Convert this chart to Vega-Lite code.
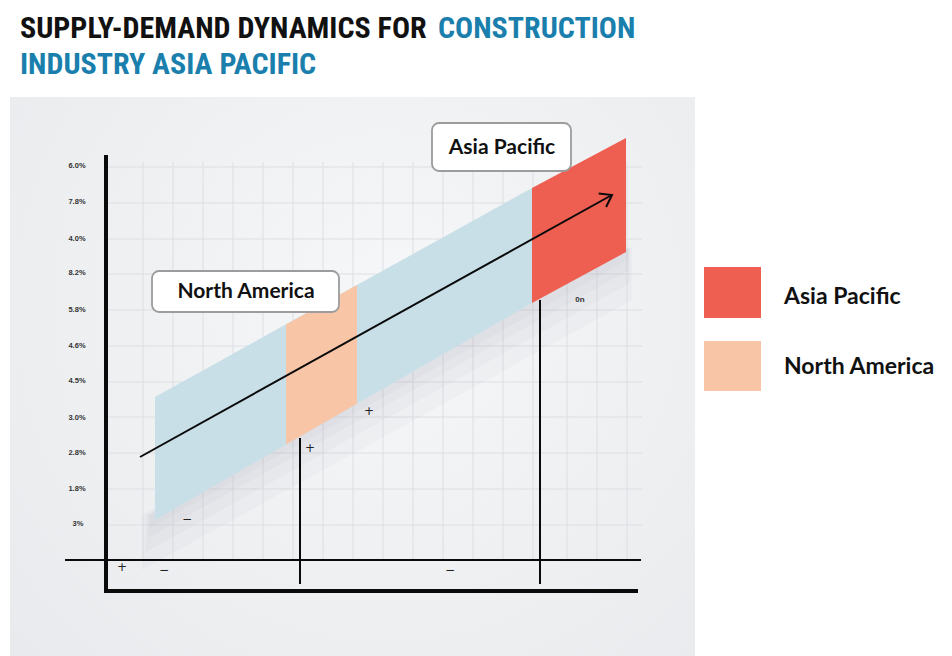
{
  "$schema": "https://vega.github.io/schema/vega-lite/v6.json",
  "width": 952,
  "height": 656,
  "padding": 0,
  "autosize": {"type": "fit", "contains": "padding"},
  "background": "#ffffff",
  "config": {"view": {"stroke": null}},
  "datasets": {
    "panel": [{"x": 10, "y": 97, "x2": 695, "y2": 656}],
    "grid": [
      {"x": 143, "y": 162, "x2": 143, "y2": 560}, {"x": 173, "y": 162, "x2": 173, "y2": 560},
      {"x": 203, "y": 162, "x2": 203, "y2": 560}, {"x": 233, "y": 162, "x2": 233, "y2": 560},
      {"x": 263, "y": 162, "x2": 263, "y2": 560}, {"x": 293, "y": 162, "x2": 293, "y2": 560},
      {"x": 323, "y": 162, "x2": 323, "y2": 560}, {"x": 353, "y": 162, "x2": 353, "y2": 560},
      {"x": 383, "y": 162, "x2": 383, "y2": 560}, {"x": 413, "y": 162, "x2": 413, "y2": 560},
      {"x": 443, "y": 162, "x2": 443, "y2": 560}, {"x": 473, "y": 162, "x2": 473, "y2": 560},
      {"x": 503, "y": 162, "x2": 503, "y2": 560}, {"x": 533, "y": 162, "x2": 533, "y2": 560},
      {"x": 567, "y": 162, "x2": 567, "y2": 560}, {"x": 597, "y": 162, "x2": 597, "y2": 560},
      {"x": 627, "y": 162, "x2": 627, "y2": 560},
      {"x": 107, "y": 167, "x2": 642, "y2": 167}, {"x": 107, "y": 203, "x2": 642, "y2": 203},
      {"x": 107, "y": 239, "x2": 642, "y2": 239}, {"x": 107, "y": 274, "x2": 642, "y2": 274},
      {"x": 107, "y": 310, "x2": 642, "y2": 310}, {"x": 107, "y": 346, "x2": 642, "y2": 346},
      {"x": 107, "y": 382, "x2": 642, "y2": 382}, {"x": 107, "y": 417, "x2": 642, "y2": 417},
      {"x": 107, "y": 453, "x2": 642, "y2": 453}, {"x": 107, "y": 489, "x2": 642, "y2": 489},
      {"x": 107, "y": 525, "x2": 642, "y2": 525}
    ],
    "shadow": [
      {"g": "a", "x": 150, "y": 515, "y2": 528},
      {"g": "a", "x": 628, "y": 247, "y2": 260},
      {"g": "b", "x": 148, "y": 515, "y2": 538},
      {"g": "b", "x": 629, "y": 247, "y2": 270},
      {"g": "c", "x": 146, "y": 515, "y2": 552},
      {"g": "c", "x": 630, "y": 247, "y2": 283},
      {"g": "d", "x": 142, "y": 515, "y2": 570},
      {"g": "d", "x": 632, "y": 247, "y2": 300}
    ],
    "bands": [
      {"region": "band", "x": 155, "y": 397, "y2": 520},
      {"region": "band", "x": 532, "y": 188, "y2": 303},
      {"region": "North America", "x": 286, "y": 324.4, "y2": 444.6},
      {"region": "North America", "x": 357, "y": 285, "y2": 403.7},
      {"region": "Asia Pacific", "x": 532, "y": 188, "y2": 303},
      {"region": "Asia Pacific", "x": 626, "y": 138, "y2": 252}
    ],
    "lines": [
      {"kind": "axis", "x": 106, "y": 155, "x2": 106, "y2": 593},
      {"kind": "axis", "x": 104, "y": 591, "x2": 638, "y2": 591},
      {"kind": "thin", "x": 65, "y": 560, "x2": 641, "y2": 560},
      {"kind": "thin", "x": 300, "y": 438, "x2": 300, "y2": 584},
      {"kind": "thin", "x": 540, "y": 300, "x2": 540, "y2": 584},
      {"kind": "arrow", "x": 140, "y": 457, "x2": 611, "y2": 195.5}
    ],
    "arrowhead": [{"x": 612, "y": 195}],
    "boxes": [
      {"label": "North America", "x": 152, "y": 271, "x2": 339, "y2": 312, "cx": 246, "cy": 292},
      {"label": "Asia Pacific", "x": 432, "y": 123, "x2": 571, "y2": 171, "cx": 502, "cy": 148}
    ],
    "ylabels": [
      {"label": "6.0%", "x": 77, "y": 166}, {"label": "7.8%", "x": 77, "y": 202},
      {"label": "4.0%", "x": 77, "y": 239}, {"label": "8.2%", "x": 77, "y": 273},
      {"label": "5.8%", "x": 77, "y": 310}, {"label": "4.6%", "x": 77, "y": 346},
      {"label": "4.5%", "x": 77, "y": 381}, {"label": "3.0%", "x": 77, "y": 418},
      {"label": "2.8%", "x": 77, "y": 453}, {"label": "1.8%", "x": 77, "y": 489},
      {"label": "3%", "x": 78, "y": 524}
    ],
    "signs": [
      {"label": "+", "x": 369, "y": 411}, {"label": "+", "x": 310, "y": 448},
      {"label": "−", "x": 187, "y": 519}, {"label": "+", "x": 122, "y": 567},
      {"label": "−", "x": 164, "y": 570}, {"label": "−", "x": 450, "y": 570}
    ],
    "notes": [{"label": "0n", "x": 580, "y": 300}],
    "legend": [
      {"region": "Asia Pacific", "x": 704, "y": 267, "x2": 761, "y2": 318, "tx": 784, "ty": 297},
      {"region": "North America", "x": 704, "y": 341, "x2": 761, "y2": 391, "tx": 784, "ty": 367}
    ],
    "title": [
      {"part": "dark", "label": "SUPPLY-DEMAND DYNAMICS FOR", "x": 20, "y": 38},
      {"part": "blue", "label": "CONSTRUCTION", "x": 438, "y": 38},
      {"part": "blue", "label": "INDUSTRY ASIA PACIFIC", "x": 20, "y": 74}
    ]
  },
  "encoding": {
    "x": {"field": "x", "type": "quantitative", "axis": null, "scale": {"domain": [0, 952], "nice": false, "zero": false}},
    "y": {"field": "y", "type": "quantitative", "axis": null, "scale": {"domain": [0, 656], "nice": false, "zero": false, "reverse": true}}
  },
  "layer": [
    {
      "data": {"name": "panel"},
      "mark": {"type": "rect", "fill": {"gradient": "radial", "x1": 0.55, "y1": 0.4, "r1": 0, "x2": 0.55, "y2": 0.4, "r2": 0.8, "stops": [{"offset": 0, "color": "#f6f7f8"}, {"offset": 1, "color": "#e7e9ec"}]}},
      "encoding": {"x2": {"field": "x2"}, "y2": {"field": "y2"}}
    },
    {
      "data": {"name": "grid"},
      "mark": {"type": "rule", "stroke": "#dcdfe3", "strokeWidth": 1},
      "encoding": {"x2": {"field": "x2"}, "y2": {"field": "y2"}}
    },
    {
      "data": {"name": "shadow"},
      "mark": {"type": "area", "fill": "#6f7680", "opacity": 0.035},
      "encoding": {"y2": {"field": "y2"}, "detail": {"field": "g"}}
    },
    {
      "data": {"name": "bands"},
      "mark": {"type": "area", "opacity": 1},
      "encoding": {
        "y2": {"field": "y2"},
        "color": {"field": "region", "type": "nominal", "legend": null, "scale": {"domain": ["band", "North America", "Asia Pacific"], "range": ["#c9dfe7", "#f8c5a6", "#ef5f51"]}}
      }
    },
    {
      "data": {"name": "lines"},
      "transform": [{"filter": "datum.kind === 'axis'"}],
      "mark": {"type": "rule", "stroke": "#0a0a0a", "strokeWidth": 4},
      "encoding": {"x2": {"field": "x2"}, "y2": {"field": "y2"}}
    },
    {
      "data": {"name": "lines"},
      "transform": [{"filter": "datum.kind !== 'axis'"}],
      "mark": {"type": "rule", "stroke": "#0a0a0a", "strokeWidth": 2},
      "encoding": {"x2": {"field": "x2"}, "y2": {"field": "y2"}}
    },
    {
      "data": {"name": "arrowhead"},
      "mark": {"type": "point", "shape": "M-1,-0.7L0,0L-1,0.7", "filled": false, "stroke": "#0a0a0a", "strokeWidth": 2, "size": 480, "angle": 331, "opacity": 1}
    },
    {
      "data": {"name": "boxes"},
      "mark": {"type": "rect", "fill": "#ffffff", "stroke": "#9c9c9c", "strokeWidth": 1.8, "cornerRadius": 7},
      "encoding": {"x2": {"field": "x2"}, "y2": {"field": "y2"}}
    },
    {
      "data": {"name": "boxes"},
      "mark": {"type": "text", "font": "Lato", "fontWeight": "bold", "fontSize": 21, "color": "#111111", "align": "center", "baseline": "middle"},
      "encoding": {"x": {"field": "cx"}, "y": {"field": "cy"}, "text": {"field": "label"}}
    },
    {
      "data": {"name": "ylabels"},
      "mark": {"type": "text", "font": "Liberation Sans", "fontWeight": "bold", "fontSize": 7.5, "color": "#333333", "align": "center", "baseline": "middle"},
      "encoding": {"text": {"field": "label"}}
    },
    {
      "data": {"name": "signs"},
      "mark": {"type": "text", "font": "DejaVu Sans", "fontSize": 12, "color": "#222222", "align": "center", "baseline": "middle"},
      "encoding": {"text": {"field": "label"}}
    },
    {
      "data": {"name": "notes"},
      "mark": {"type": "text", "font": "Liberation Sans", "fontWeight": "bold", "fontSize": 8, "color": "#333333", "align": "center", "baseline": "middle"},
      "encoding": {"text": {"field": "label"}}
    },
    {
      "data": {"name": "legend"},
      "mark": {"type": "rect"},
      "encoding": {
        "x2": {"field": "x2"}, "y2": {"field": "y2"},
        "color": {"field": "region", "type": "nominal", "legend": null}
      }
    },
    {
      "data": {"name": "legend"},
      "mark": {"type": "text", "font": "Lato", "fontWeight": "bold", "fontSize": 23, "color": "#111111", "align": "left", "baseline": "middle"},
      "encoding": {"x": {"field": "tx"}, "y": {"field": "ty"}, "text": {"field": "region"}}
    },
    {
      "data": {"name": "title"},
      "transform": [{"filter": "datum.part === 'dark'"}],
      "mark": {"type": "text", "font": "Roboto Condensed, Roboto", "fontWeight": "bold", "fontSize": 30, "color": "#111111", "align": "left", "baseline": "alphabetic"},
      "encoding": {"text": {"field": "label"}}
    },
    {
      "data": {"name": "title"},
      "transform": [{"filter": "datum.part === 'blue'"}],
      "mark": {"type": "text", "font": "Roboto Condensed, Roboto", "fontWeight": "bold", "fontSize": 30, "color": "#1a7fad", "align": "left", "baseline": "alphabetic"},
      "encoding": {"text": {"field": "label"}}
    }
  ]
}
